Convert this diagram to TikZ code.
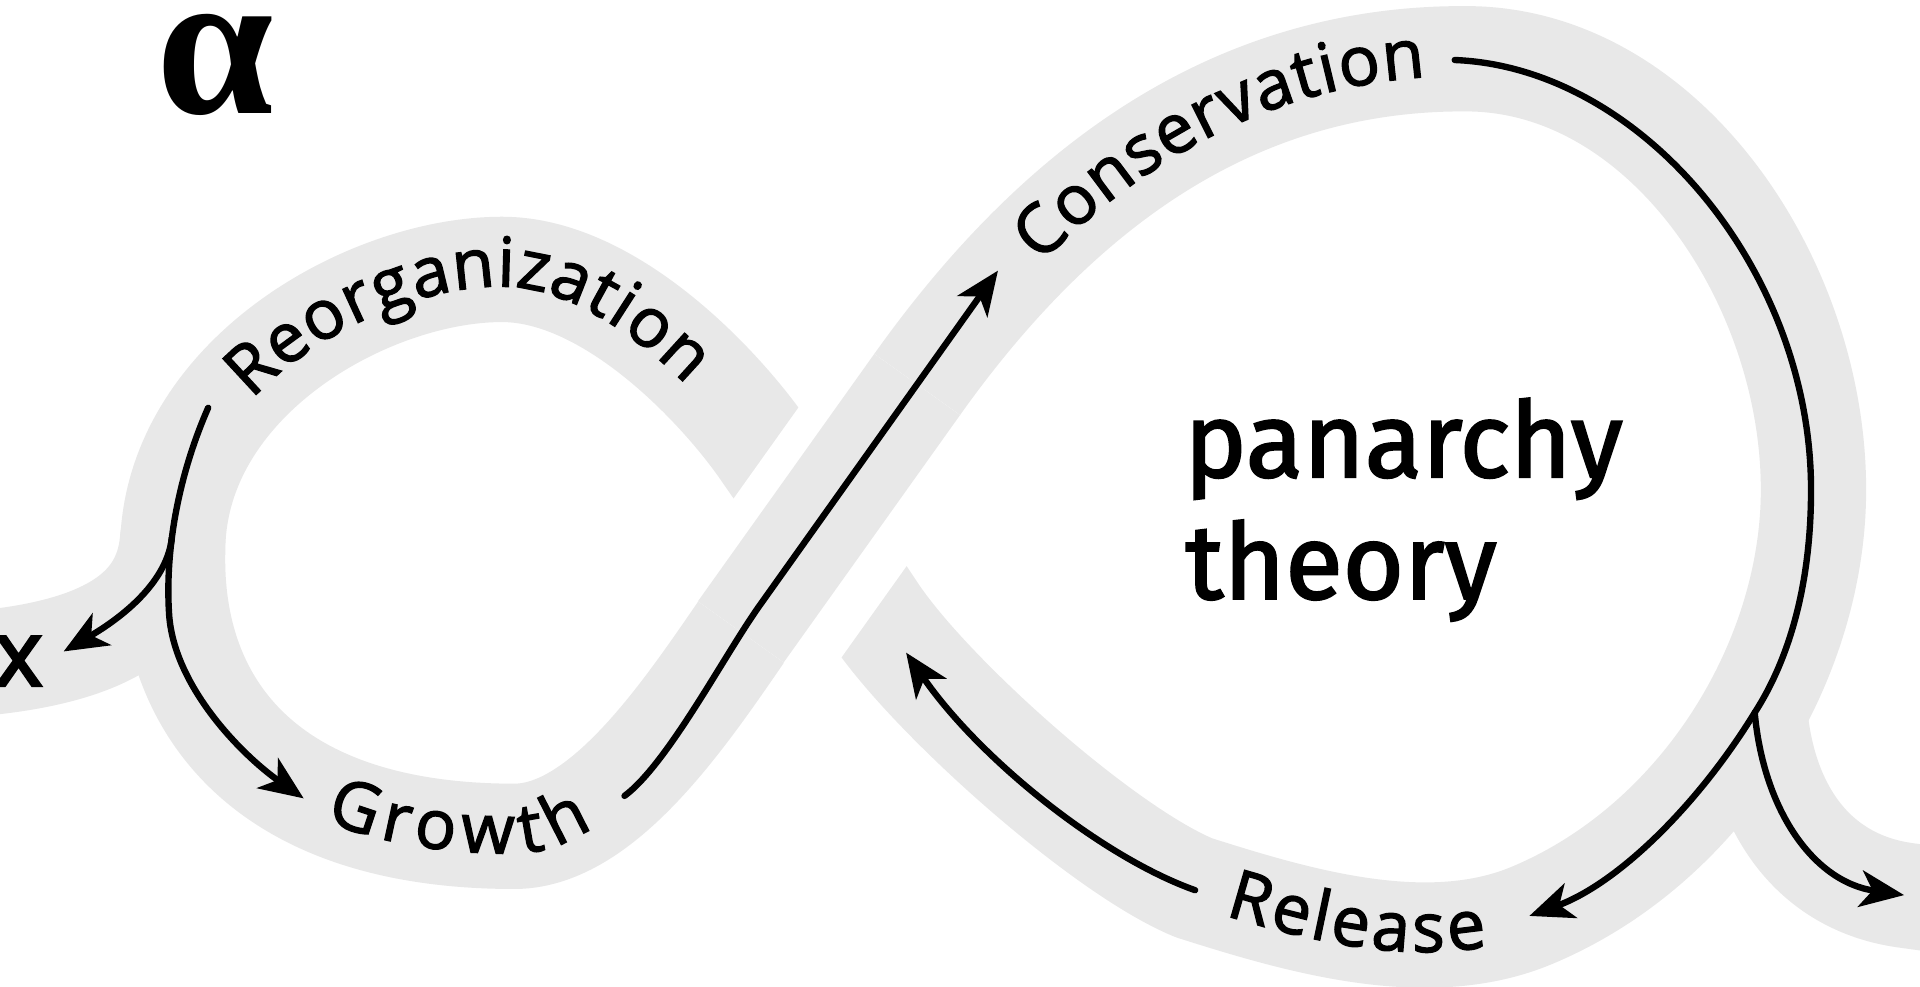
\documentclass[tikz,border=0pt]{standalone}
\usepackage{fontspec}
\usetikzlibrary{arrows.meta,decorations.text}
\newfontfamily\lblfam{Open Sans}[FakeBold=2]
\newfontfamily\xfam{Open Sans}[FakeBold=3]
\newfontfamily\panfam{Fira Sans}[FakeBold=2]
\newfontfamily\alphafam{Liberation Serif}
\definecolor{bandgray}{RGB}{232,232,232}
\newcommand\lblsize{\lblfam\fontsize{56}{64}\selectfont}
\tikzset{
  band/.style={draw=bandgray, line width=86pt, line join=round},
  arr/.style={draw=black, line width=5.2pt, line cap=round, -{Stealth[length=36pt,width=30pt,inset=10pt]}},
  lbl/.style={decorate, decoration={text along path, text align={fit to path}, raise=-14pt}},
}
\begin{document}
\begin{tikzpicture}[x=1pt,y=1pt]
\useasboundingbox (0,0) rectangle (1568,-806);
\fill[white] (0,0) rectangle (1568,-806);
% gray band (figure eight)
\draw[band] (666,-428) -- (625,-369)
  .. controls (591,-319) and (500,-220) .. (410,-220)
  .. controls (300,-220) and (141,-310) .. (141,-450)
  .. controls (138,-580) and (220,-683) .. (420,-683)
  .. controls (500,-683) and (573.6,-560.2) .. (620,-495)
  -- (749,-314)
  .. controls (865,-151) and (1010,-46) .. (1200,-48)
  .. controls (1360,-50) and (1481,-230) .. (1481,-400)
  .. controls (1481,-540) and (1390,-690) .. (1250,-748)
  .. controls (1165,-783) and (1060,-752) .. (975,-725)
  .. controls (900,-694) and (758,-567) .. (713.5,-499.5)
  -- cycle;
% tails
\draw[band, line cap=round] (141,-440) .. controls (137,-495) and (95,-532) .. (-20,-542);
\draw[band, line cap=round] (1433,-582) .. controls (1440,-660) and (1480,-720) .. (1555,-731) -- (1620,-740);
% crossing: over-passing band with white gap
\draw[white, line width=147pt, shift={(4.5,-3.2)}] (605,-516) -- (749,-314);
\draw[draw=bandgray, line width=86pt] (605,-516) -- (749,-314);

% labels on the band
\path[lbl, decoration={text={|\lblsize|Reorganization}}]
  (196,-316) .. controls (254.8,-254.6) and (341.8,-220) .. (410,-220)
  .. controls (467.6,-220) and (525.6,-260.6) .. (570,-304);
\path[lbl, decoration={text={|\lblsize|Growth}}]
  (270,-657) .. controls (310.6,-673.8) and (360,-683) .. (420,-683)
  .. controls (439.2,-683) and (457.9,-676) .. (478,-663);
\path[lbl, decoration={text={|\lblsize|Conservation}}]
  (840,-205) .. controls (931,-114) and (1036,-58) .. (1163,-49);
\path[lbl, decoration={text={|\lblsize|Release}}]
  (1004,-734) .. controls (1071.6,-754.5) and (1144.8,-771.9) .. (1213,-759);

% arrow end points
\coordinate (rs) at (170,-333);
\coordinate (gt) at (248,-652);
\coordinate (xt) at (52,-532);
\coordinate (gs) at (510,-650);
\coordinate (ct) at (815,-221);
\coordinate (cs) at (1188,-49);
\coordinate (rt) at (1249,-748);
\coordinate (tt) at (1555,-731);
\coordinate (ls) at (976,-727);
\coordinate (lt) at (740,-533);

% arrows
\draw[arr] (rs) .. controls (145,-390) and (135,-450) .. coordinate[pos=0.62] (jl) (138,-500)
  .. controls (141,-560) and (198,-617) .. (gt);
\draw[arr] (jl) .. controls (136,-478) and (95,-507) .. (xt);
\draw[arr] (gs) .. controls (545,-624) and (591,-536) .. (620,-495) -- (ct);
\draw[arr] (cs) .. controls (1340,-55) and (1479,-220) .. (1479,-400)
  .. controls (1479,-480) and (1460,-540) .. (1433,-582) coordinate (jr)
  .. controls (1385,-660) and (1320,-722) .. (rt);
\draw[arr] (jr) .. controls (1440,-660) and (1480,-720) .. (tt);
\draw[arr] (ls) .. controls (900,-700) and (800,-620) .. (lt);

% texts
\node[anchor=base west, inner sep=0pt] (alpha) at (128,-93) {\alphafam\bfseries\fontsize{172}{180}\selectfont α};
\node[anchor=base east, inner sep=0pt] (xl) at (35,-560) {\xfam\fontsize{75}{80}\selectfont x};
\node[anchor=base west, inner sep=0pt] (pan) at (967,-389.5) {\panfam\fontsize{86}{100}\selectfont panarchy};
\node[anchor=base west, inner sep=0pt] (theo) at (968,-489) {\panfam\fontsize{86}{100}\selectfont theory};
\end{tikzpicture}
\end{document}
